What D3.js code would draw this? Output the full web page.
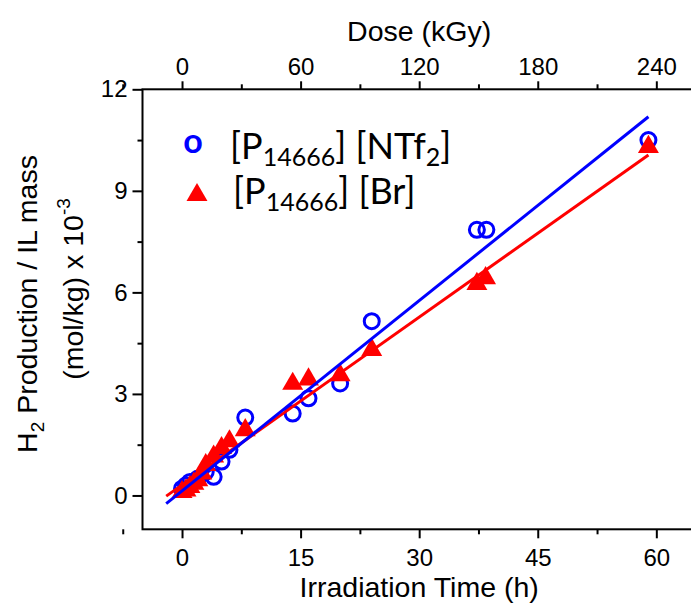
<!DOCTYPE html>
<html>
<head>
<meta charset="utf-8">
<script src="https://cdn.jsdelivr.net/npm/d3@7"></script>
<style>
  html, body { margin: 0; padding: 0; background: #fff; }
  svg { display: block; }
</style>
</head>
<body>
<svg id="chart" width="691" height="605"></svg>
<script>
// ---- data ----
const ntf2Time  = [0, 0.5, 1, 2, 3, 4, 5, 6, 8, 14, 16, 20, 24, 37.3, 38.5, 59];
const ntf2Value = [0.2, 0.3, 0.4, 0.5, 0.7, 0.55, 1.0, 1.35, 2.3, 2.42, 2.87, 3.31, 5.15, 7.85, 7.85, 10.5];
const brTime    = [0, 0.5, 1, 1.5, 2, 2.5, 3, 4, 5, 6, 8, 14, 16, 20, 24, 37.3, 38.4, 59];
const brValue   = [0.1, 0.15, 0.25, 0.35, 0.45, 0.65, 0.9, 1.15, 1.4, 1.6, 1.93, 3.3, 3.43, 3.55, 4.3, 6.25, 6.42, 10.3];
// linear fits: values at the two ends of the drawn range
const fitTime   = [-2, 59];
const fitNtf2   = [-0.24, 11.19];
const fitBr     = [-0.02, 10.06];
const timeTicks = [0, 15, 30, 45, 60];
const doseTicks = [0, 60, 120, 180, 240];
const yTicks    = [0, 3, 6, 9, 12];
const timeMinor = [-7.5, 7.5, 22.5, 37.5, 52.5];
const doseMinor = [-30, 30, 90, 150, 210];
const yMinor    = [1.5, 4.5, 7.5, 10.5];

// ---- layout ----
const svg = d3.select("#chart");
const pLeft = 142.5, pTop = 89.3, pBottom = 529.3;
const x = d3.scaleLinear().domain([-5, 65]).range([pLeft, pLeft + 70 * 7.905]);
const xd = d3.scaleLinear().domain([-20, 260]).range(x.range());
const y = d3.scaleLinear().domain([-1, 12]).range([pBottom, pTop]);
const pRight = x.range()[1];

const tickFont = "Liberation Sans, Arial, sans-serif";

function styleAxis(g) {
  g.select(".domain").remove();
  g.selectAll(".tick line").attr("stroke", "#000").attr("stroke-width", 2);
  g.selectAll(".tick text").attr("font-family", tickFont).attr("font-size", 24).attr("fill", "#000");
}

// bottom axis
svg.append("g").attr("transform", `translate(0,${pBottom})`)
  .call(d3.axisBottom(x).tickValues(timeTicks).tickSize(9).tickPadding(11).tickFormat(d3.format("d")))
  .call(styleAxis);
svg.append("g").attr("transform", `translate(0,${pBottom})`)
  .call(d3.axisBottom(x).tickValues(timeMinor).tickSize(5).tickFormat(""))
  .call(styleAxis);
// top axis
svg.append("g").attr("transform", `translate(0,${pTop})`)
  .call(d3.axisTop(xd).tickValues(doseTicks).tickSize(8).tickPadding(6).tickFormat(d3.format("d")))
  .call(styleAxis);
svg.append("g").attr("transform", `translate(0,${pTop})`)
  .call(d3.axisTop(xd).tickValues(doseMinor).tickSize(5).tickFormat(""))
  .call(styleAxis);
// left axis
svg.append("g").attr("transform", `translate(${pLeft},0)`)
  .call(d3.axisLeft(y).tickValues(yTicks).tickSize(10).tickPadding(5).tickFormat(d3.format("d")))
  .call(styleAxis);
svg.append("g").attr("transform", `translate(${pLeft},0)`)
  .call(d3.axisLeft(y).tickValues(yMinor).tickSize(5).tickFormat(""))
  .call(styleAxis);

// frame
svg.append("rect")
  .attr("x", pLeft).attr("y", pTop)
  .attr("width", pRight - pLeft).attr("height", pBottom - pTop)
  .attr("fill", "none").attr("stroke", "#000").attr("stroke-width", 2);

// ---- marks ----
const blue = "#0000ff", red = "#ff0000";
const ntf2 = ntf2Time.map((t, i) => ({ t, v: ntf2Value[i] }));
const br = brTime.map((t, i) => ({ t, v: brValue[i] }));

svg.append("g").selectAll("circle").data(ntf2).join("circle")
  .attr("cx", d => x(d.t)).attr("cy", d => y(d.v)).attr("r", 7.5)
  .attr("fill", "none").attr("stroke", blue).attr("stroke-width", 3);

const tri = d3.symbol().type(d3.symbolTriangle).size(190);
svg.append("g").selectAll("path").data(br).join("path")
  .attr("d", tri).attr("transform", d => `translate(${x(d.t)},${y(d.v)})`)
  .attr("fill", red);

const line = d3.line().x(d => x(d[0])).y(d => y(d[1]));
svg.append("path").datum(fitTime.map((t, i) => [t, fitBr[i]]))
  .attr("d", line).attr("stroke", red).attr("stroke-width", 3).attr("fill", "none");
svg.append("path").datum(fitTime.map((t, i) => [t, fitNtf2[i]]))
  .attr("d", line).attr("stroke", blue).attr("stroke-width", 3).attr("fill", "none");

// ---- titles ----
const titleSize = 28.5;
svg.append("text").attr("x", x(30)).attr("y", 40.5).attr("text-anchor", "middle")
  .attr("font-family", tickFont).attr("font-size", titleSize).text("Dose (kGy)");
svg.append("text").attr("x", x(30)).attr("y", 597).attr("text-anchor", "middle")
  .attr("font-family", tickFont).attr("font-size", titleSize).text("Irradiation Time (h)");

const yt1 = svg.append("text").attr("transform", "translate(37,304) rotate(-90)")
  .attr("text-anchor", "middle").attr("font-family", tickFont).attr("font-size", titleSize);
yt1.append("tspan").text("H");
yt1.append("tspan").attr("font-size", 19).attr("dy", 7).text("2");
yt1.append("tspan").attr("dy", -7).text(" Production / IL mass");

const yt2 = svg.append("text").attr("transform", "translate(83,289) rotate(-90)")
  .attr("text-anchor", "middle").attr("font-family", tickFont).attr("font-size", titleSize);
yt2.append("tspan").text("(mol/kg) x 10");
yt2.append("tspan").attr("font-size", 19).attr("dy", -13).text("-3");

// ---- legend ----
const legFont = "Lato, 'Open Sans', sans-serif";
svg.append("text").attr("x", 193).attr("y", 153).attr("text-anchor", "middle")
  .attr("font-family", legFont).attr("font-weight", "bold").attr("font-size", 34)
  .attr("fill", blue).text("o");
svg.append("path").attr("d", tri).attr("transform", "translate(197,195)").attr("fill", red);

function legendLabel(xp, yp, parts) {
  const t = svg.append("text").attr("x", xp).attr("y", yp)
    .attr("font-family", legFont).attr("font-size", 36).attr("fill", "#000");
  parts.forEach(([s, sub]) => {
    const ts = t.append("tspan").text(s);
    if (sub === 1) ts.attr("font-size", 25).attr("dy", 7);
    else if (sub === -1) ts.attr("dy", -7);
  });
}
legendLabel(230, 159, [["[P", 0], ["14666", 1], ["] [NTf", -1], ["2", 1], ["]", -1]]);
legendLabel(233, 204, [["[P", 0], ["14666", 1], ["] [Br]", -1]]);
</script>
</body>
</html>
